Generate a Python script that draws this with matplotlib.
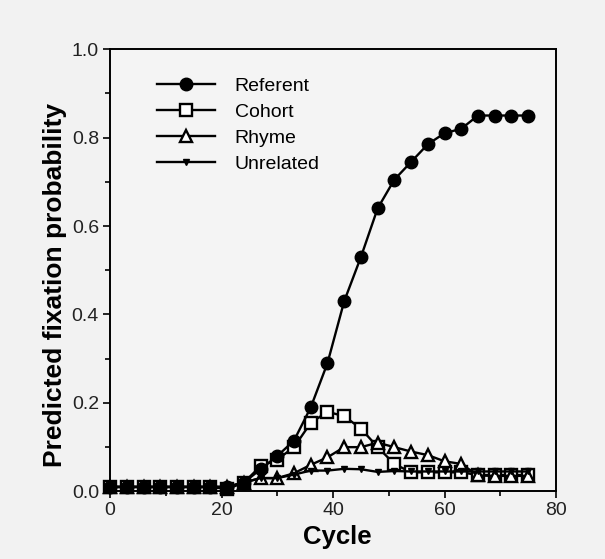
import numpy as np
import matplotlib
matplotlib.use("Agg")
import matplotlib.pyplot as plt
from matplotlib.ticker import MultipleLocator

plt.rcParams['font.family'] = ['Liberation Sans', 'DejaVu Sans']

# %% Data
cycles = np.arange(0, 76, 3)

referent = [0.01, 0.01, 0.01, 0.01, 0.01, 0.01, 0.01, 0.01, 0.02, 0.05,
            0.08, 0.115, 0.19, 0.29, 0.43, 0.53, 0.64, 0.705, 0.745, 0.785,
            0.81, 0.82, 0.85, 0.85, 0.85, 0.85]
cohort = [0.01, 0.01, 0.01, 0.01, 0.01, 0.01, 0.01, 0.005, 0.02, 0.057,
          0.072, 0.10, 0.155, 0.18, 0.17, 0.142, 0.10, 0.062, 0.043, 0.043,
          0.043, 0.043, 0.037, 0.037, 0.037, 0.037]
rhyme = [0.01, 0.01, 0.01, 0.01, 0.01, 0.01, 0.01, 0.01, 0.02, 0.03,
         0.03, 0.041, 0.06, 0.077, 0.10, 0.10, 0.11, 0.10, 0.09, 0.082,
         0.068, 0.062, 0.036, 0.035, 0.035, 0.035]
unrelated = [0.01, 0.01, 0.01, 0.01, 0.01, 0.01, 0.01, 0.01, 0.02, 0.03,
             0.03, 0.038, 0.047, 0.047, 0.051, 0.05, 0.044, 0.046, 0.045, 0.045,
             0.045, 0.045, 0.045, 0.045, 0.045, 0.045]

labels = ["Referent", "Cohort", "Rhyme", "Unrelated"]

# %% Plot
fig = plt.figure(figsize=(6.05, 5.59), dpi=100, facecolor='#f2f2f2')
ax = fig.add_axes([0.182, 0.121, 0.737, 0.791])
ax.set_facecolor('#f4f4f4')

lw = 1.7
ax.plot(cycles, referent, '-o', color='black', lw=lw, ms=9,
        mfc='black', mec='black', label=labels[0], clip_on=False, zorder=4)
ax.plot(cycles, cohort, '-s', color='black', lw=lw, ms=8.5,
        mfc='white', mec='black', mew=1.7, label=labels[1], clip_on=False, zorder=3)
ax.plot(cycles, rhyme, '-^', color='black', lw=lw, ms=8.5,
        mfc='white', mec='black', mew=1.7, label=labels[2], clip_on=False, zorder=3)
ax.plot(cycles, unrelated, '-v', color='black', lw=lw, ms=5,
        mfc='black', mec='black', label=labels[3], clip_on=False, zorder=3)

ax.set_xlim(0, 80)
ax.set_ylim(0, 1.0)
ax.xaxis.set_major_locator(MultipleLocator(20))
ax.xaxis.set_minor_locator(MultipleLocator(10))
ax.yaxis.set_major_locator(MultipleLocator(0.2))
ax.yaxis.set_minor_locator(MultipleLocator(0.1))
ax.yaxis.set_major_formatter(matplotlib.ticker.FormatStrFormatter('%.1f'))

ax.tick_params(which='both', direction='out', width=1.2, labelsize=14, color='black',
               labelcolor='#222222')
ax.tick_params(which='major', length=5, pad=3)
ax.tick_params(which='minor', length=3.5)
for s in ax.spines.values():
    s.set_linewidth(1.4)

ax.set_xlabel('Cycle', fontsize=18.5, fontweight='bold')
ax.set_ylabel('Predicted fixation probability', fontsize=19, fontweight='bold')
ax.xaxis.set_label_coords(0.51, -0.077)
ax.yaxis.set_label_coords(-0.097, 0.467)

leg = ax.legend(loc='upper left', frameon=False, fontsize=14, handlelength=3.0,
                labelspacing=0.42, handletextpad=1.0, borderpad=0.3,
                bbox_to_anchor=(0.07, 0.971))

fig.savefig('out.png', dpi=100, facecolor=fig.get_facecolor())
